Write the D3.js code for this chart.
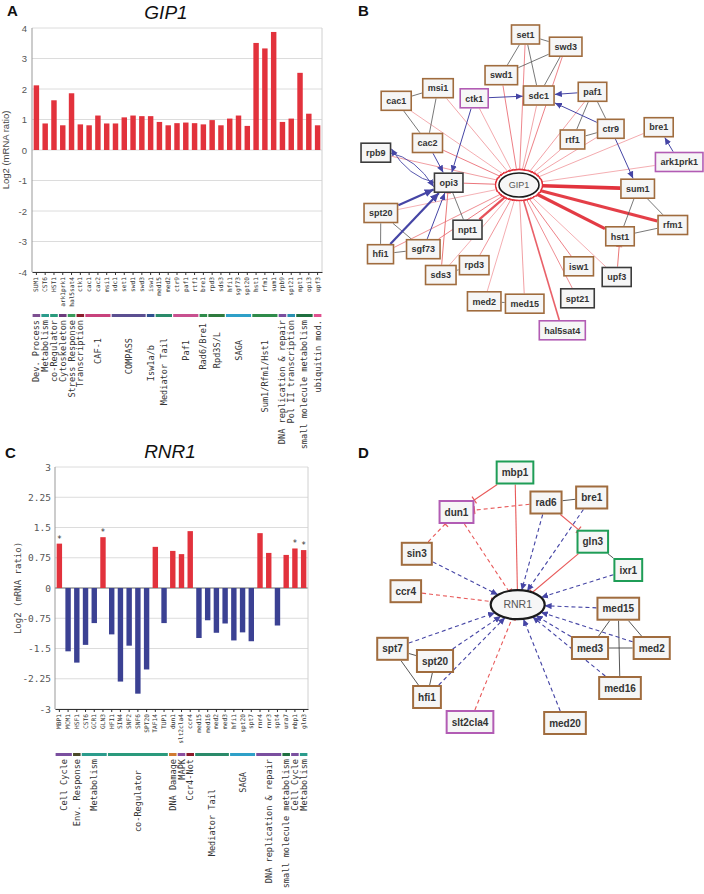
<!DOCTYPE html>
<html><head><meta charset="utf-8">
<script src="https://cdn.jsdelivr.net/npm/d3@7"></script>
<style>body{margin:0;background:#fff}svg{display:block}</style>
</head><body>
<svg id="c" width="704" height="894"></svg>
<script>
// ---------------- DATA ----------------
const genesA = ["SUM1","CST6","HST1","ark1prk1","hal5sat4","ctk1","cac1","cac2","msi1","sdc1","set1","swd1","swd3","isw1","med15","med2","ctr9","paf1","rtf1","bre1","rpd3","sds3","hfi1","sgf73","spt20","hst1","rfm1","sum1","rpb9","spt21","npt1","opi3","upf3"];
const valuesA = [2.12,0.87,1.63,0.81,1.86,0.84,0.81,1.13,0.87,0.87,1.07,1.13,1.11,1.11,0.92,0.81,0.88,0.90,0.88,0.84,0.98,0.81,1.03,1.13,0.79,3.51,3.33,3.87,0.92,1.03,2.53,1.19,0.81];
const catNamesA = ["Dev. Process","Metabolism","co-Regulator","Cytoskeleton","Stress Response","Transcription","CAF-1","COMPASS","Isw1a/b","Mediator Tail","Paf1","Rad6/Bre1","Rpd3S/L","SAGA","Sum1/Rfm1/Hst1","DNA replication & repair","Pol II transcription","small molecule metabolism","ubiquitin mod."];
const catSizesA = [1,1,1,1,1,1,3,4,1,2,3,1,2,3,3,1,1,2,1];
const ticksA = [4,3,2,1,0,-1,-2,-3,-4];

const genesC = ["MBP1","MCM1","HSF1","CST6","GCR1","GLN3","HFI1","SIN4","SNF2","SNF6","SPT20","TAF14","TUP1","dun1","slt2cla4","ccr4","med15","med16","med2","med3","hfi1","spt20","spt7","rnr4","rnr3","spt4","ura7","mbp1","gln3"];
const valuesC = [1.10,-1.57,-1.85,-1.41,-0.87,1.26,-1.15,-2.32,-1.43,-2.62,-2.02,1.02,-0.87,0.92,0.84,1.41,-1.24,-0.80,-1.11,-0.88,-1.30,-1.10,-1.32,1.36,0.87,-0.93,0.82,0.98,0.94];
const starredC = ["MBP1","GLN3","mbp1","gln3"];
const catNamesC = ["Cell Cycle","Env. Response","Metabolism","co-Regulator","DNA Damage","MAPK","Ccr4-Not","Mediator Tail","SAGA","DNA replication & repair","small molecule metabolism","Cell Cycle","Metabolism"];
const catSizesC = [2,1,3,7,1,1,1,4,3,3,1,1,1];
const ticksC = [3,2.25,1.5,0.75,0,-0.75,-1.5,-2.25,-3];

// network B (GIP1)
const nodesB = ["set1","swd3","swd1","msi1","ctk1","sdc1","paf1","cac1","ctr9","rtf1","bre1","cac2","rpb9","ark1prk1","opi3","sum1","spt20","npt1","rfm1","hst1","hfi1","sgf73","rpd3","sds3","isw1","upf3","med2","med15","spt21","hal5sat4"];
const kindB = {ctk1:"kinase",ark1prk1:"kinase",hal5sat4:"kinase",rpb9:"other",opi3:"other",npt1:"other",upf3:"other",spt21:"other"};
const ppiB = [["set1","swd3"],["set1","swd1"],["set1","sdc1"],["swd3","swd1"],["swd3","sdc1"],["msi1","cac1"],["msi1","cac2"],["cac1","cac2"],["paf1","ctr9"],["paf1","rtf1"],["ctr9","rtf1"],["opi3","npt1"],["spt20","hfi1"],["spt20","sgf73"],["hfi1","sgf73"],["sds3","rpd3"],["med2","med15"],["sum1","hst1"],["sum1","rfm1"],["hst1","rfm1"]];
const actB = [["ctk1","sdc1",1],["paf1","sdc1",1],["ctr9","sdc1",1],["ctk1","opi3",1],["cac2","opi3",1],["spt20","opi3",2.2],["hfi1","opi3",2.2],["sgf73","opi3",1],["ctr9","sum1",1],["ark1prk1","bre1",1]];
const inhB = [["upf3","hst1"],["sds3","opi3"]];

// network D (RNR1)
const nodesD = ["mbp1","dun1","rad6","bre1","gln3","sin3","ixr1","ccr4","med15","spt7","med3","med2","spt20","med16","hfi1","slt2cla4","med20"];
const kindD = {mbp1:"tf",gln3:"tf",ixr1:"tf",dun1:"kinase",slt2cla4:"kinase"};
const ppiD = [["rad6","bre1"],["gln3","ixr1"],["med15","med3"],["med15","med2"],["med15","med16"],["med3","med2"],["spt7","spt20"],["spt7","hfi1"],["spt20","hfi1"]];
const inhSolidD = [["mbp1","dun1"],["mbp1","RNR1"],["rad6","gln3"],["gln3","RNR1"]];
const inhDashD = [["rad6","dun1"],["dun1","RNR1"],["sin3","dun1"],["ccr4","RNR1"],["slt2cla4","RNR1"]];
const actDashD = ["rad6","bre1","sin3","ixr1","med15","med2","med3","med16","spt7","spt20","hfi1","med20"];

// ---------------- LAYOUT ----------------
const layoutB = {set1:[185.5,34.5],swd3:[225.7,46.7],swd1:[161.3,75.2],msi1:[98,88.2],ctk1:[134.2,98.3],sdc1:[198.8,95.5],paf1:[252.5,91.8],cac1:[56.2,100.8],ctr9:[270.8,128.8],rtf1:[232.5,139.5],bre1:[318.7,127.2],cac2:[87.5,143],rpb9:[35.8,152.7],ark1prk1:[339.2,162],opi3:[108.7,182.7],GIP1:[179,185],sum1:[297.7,188.7],spt20:[40.8,213],npt1:[127.5,229.7],rfm1:[332.8,225],hst1:[280,236.3],hfi1:[40.5,254.2],sgf73:[83.3,249.2],rpd3:[134.2,265.2],sds3:[100.8,275],isw1:[238.7,266.3],upf3:[276.7,277],med2:[144.2,301.3],med15:[184.7,303.7],spt21:[237.5,298.3],hal5sat4:[222.3,330.3]};
const layoutD = {mbp1:[175,32.5],dun1:[116.5,72],rad6:[206,62.5],bre1:[251.7,57.5],gln3:[252.8,101.7],sin3:[76.8,113.8],ixr1:[288.3,130],ccr4:[65.8,151.2],RNR1:[177.7,164.7],med15:[278.3,168.7],spt7:[52.5,208.8],med3:[250,208],med2:[311.7,208],spt20:[95,221],med16:[280,248],hfi1:[87,257],slt2cla4:[130,282],med20:[225,283]};
const dropA = [0,0,0,0,0,0,18,18,25,18,20,3,12,20,20,0,0,0,0];
const dropC = [0,0,0,11,0,0,0,30,13,0,0,0,0];

const catColor = {"Dev. Process":"#7d4f91","Metabolism":"#2b9c8c","co-Regulator":"#2a9a7c","Cytoskeleton":"#6c3b7c","Stress Response":"#3a9a5a","Transcription":"#8b1c2c","CAF-1":"#c8427c","COMPASS":"#5b4f91","Isw1a/b":"#2f4f8f","Mediator Tail":"#2a8a6a","Paf1":"#c8508f","Rad6/Bre1":"#2e8b4a","Rpd3S/L":"#2e7a3e","SAGA":"#2ea0c8","Sum1/Rfm1/Hst1":"#2e8b4a","DNA replication & repair":"#7a4f9f","Pol II transcription":"#2a90b0","small molecule metabolism":"#1f6f3f","ubiquitin mod.":"#e0508f","Cell Cycle":"#7a4f9f","Env. Response":"#4a4a2a","DNA Damage":"#d07a30","MAPK":"#8a4f9f","Ccr4-Not":"#8b1a2a"};

const SANS = "'Liberation Sans', Arial, sans-serif";
const MONO = "'DejaVu Sans Mono', monospace";
const RED = "#e2323c", BLUE = "#3b4193";
const svg = d3.select("#c");

// panel letters & titles
[["A",7,16],["B",358,16],["C",5,458],["D",358,458]].forEach(([t,x,y]) =>
  svg.append("text").attr("x",x).attr("y",y).text(t).attr("font-family",SANS).attr("font-weight","bold").attr("font-size",15).attr("fill","#111"));
[["GIP1",166,19],["RNR1",170,458]].forEach(([t,x,y]) =>
  svg.append("text").attr("x",x).attr("y",y).text(t).attr("text-anchor","middle").attr("font-family",SANS).attr("font-style","italic").attr("font-size",19).attr("fill","#111"));

// ---------------- BAR CHART helper ----------------
function barChart(o) {
  const g = svg.append("g");
  const y = d3.scaleLinear().domain(o.domain).range([o.bottom, o.top]);
  const x = d3.scaleBand().domain(o.genes).range([o.left, o.right]).paddingInner(0.38).paddingOuter(0.19);
  g.selectAll("line.grid").data(o.ticks).join("line")
    .attr("x1",o.left).attr("x2",o.right).attr("y1",d=>y(d)).attr("y2",d=>y(d))
    .attr("stroke",d=> (d===0 && o.zeroDark) ? "#666" : "#dcdcdc").attr("stroke-width",1);
  g.append("line").attr("x1",o.right).attr("x2",o.right).attr("y1",o.top).attr("y2",o.bottom).attr("stroke","#d0d0d0");
  g.append("line").attr("x1",o.left).attr("x2",o.left).attr("y1",o.top).attr("y2",o.bottom).attr("stroke","#999");
  const ax = g.append("g").attr("transform",`translate(${o.left},0)`)
    .call(d3.axisLeft(y).tickValues(o.ticks).tickSize(0).tickPadding(o.tickPad).tickFormat(d=>String(d)));
  ax.select(".domain").remove();
  ax.selectAll("text").attr("font-family",o.tickFont).attr("font-size",o.tickSize).attr("fill","#555");
  g.append("text").attr("transform",`translate(${o.titleX},${(o.top+o.bottom)/2}) rotate(-90)`)
    .attr("text-anchor","middle").attr("font-family",o.tickFont).attr("font-size",o.titleSize).attr("fill","#444").text("Log2 (mRNA ratio)");
  g.selectAll("rect.bar").data(o.genes.map((n,i)=>({n,v:o.values[i]}))).join("rect")
    .attr("x",d=>x(d.n)).attr("width",x.bandwidth())
    .attr("y",d=>y(Math.max(0,d.v))).attr("height",d=>Math.abs(y(d.v)-y(0)))
    .attr("fill",d=>d.v>=0?RED:BLUE);
  if (o.stars) g.selectAll("text.star").data(o.stars).join("text")
    .attr("x",d=>x(d)+x.bandwidth()/2).attr("y",d=>y(o.values[o.genes.indexOf(d)])-2)
    .attr("text-anchor","middle").attr("font-family",MONO).attr("font-size",8).attr("fill","#333").text("*");
  const bx = g.append("g").attr("transform",`translate(0,${o.bottom})`)
    .call(d3.axisBottom(x).tickSize(3).tickSizeOuter(0));
  bx.select(".domain").attr("stroke","#333");
  bx.selectAll(".tick line").attr("stroke","#333");
  bx.selectAll("text").attr("font-family",MONO).attr("font-size",6.2).attr("fill","#333")
    .attr("transform","rotate(-90)").attr("text-anchor","end").attr("x",-5).attr("y",0).attr("dy","0.32em");
  const step = x.step();
  const x0 = o.left + x.paddingOuter()*step - x.paddingInner()*step/2;
  let s = 0;
  o.cats.forEach((c,i) => {
    const n = o.sizes[i];
    const a = x0 + s*step, b = x0 + (s+n)*step;
    g.append("rect").attr("x",a+0.6).attr("width",b-a-1.2).attr("y",o.catY).attr("height",3).attr("fill",catColor[c]);
    g.append("text").attr("transform",`translate(${(a+b)/2},${o.catY+6+o.drops[i]}) rotate(-90)`)
      .attr("text-anchor","end").attr("dy","0.35em").attr("font-family",MONO).attr("font-size",8.6).attr("fill","#333").text(c);
    s += n;
  });
  return {x,y};
}

barChart({genes:genesA, values:valuesA, domain:[-4,4], ticks:ticksA, left:32, right:322, top:28, bottom:272,
  tickFont:SANS, tickSize:9.5, tickPad:5, titleX:9, titleSize:9.5, cats:catNamesA, sizes:catSizesA, drops:dropA, catY:314});
barChart({genes:genesC, values:valuesC, domain:[-3,3], ticks:ticksC, left:55, right:308, top:467, bottom:709, zeroDark:true,
  tickFont:MONO, tickSize:9.5, tickPad:4, titleX:21, titleSize:9, cats:catNamesC, sizes:catSizesC, drops:dropC, catY:753, stars:starredC});

// ---------------- NETWORK helper ----------------
const defs = svg.append("defs");
function arrowMarker(id, size) {
  defs.append("marker").attr("id",id).attr("viewBox","0 0 10 10").attr("refX",10).attr("refY",5)
    .attr("markerWidth",size).attr("markerHeight",size).attr("markerUnits","userSpaceOnUse").attr("orient","auto")
    .append("path").attr("d","M0,0.5 L10,5 L0,9.5 z").attr("fill","#4545a5");
}
arrowMarker("arr",7); arrowMarker("arrBig",9);

const BOXC = {brown:"#a06c3e", kinase:"#b25cb4", other:"#3c3c3c", tf:"#1f9d57"};

function network(o) {
  const gx = d3.scaleLinear().domain([0,364]).range([o.ox, o.ox+364]);
  const gy = d3.scaleLinear().domain([0,450]).range([o.oy, o.oy+450]);
  const P = n => [gx(o.layout[n][0]), gy(o.layout[n][1])];
  const gE = svg.append("g"), gN = svg.append("g");
  const shape = {};
  const [cx,cy] = P(o.center);
  if (o.ring) gN.append("ellipse").attr("cx",cx).attr("cy",cy).attr("rx",o.erx+3.5).attr("ry",o.ery+3.5).attr("fill","none").attr("stroke",RED).attr("stroke-width",1.3);
  gN.append("ellipse").attr("cx",cx).attr("cy",cy).attr("rx",o.erx).attr("ry",o.ery).attr("fill","#f6f6f6").attr("stroke","#1a1a1a").attr("stroke-width",o.ew);
  gN.append("text").attr("x",cx).attr("y",cy).attr("dy","0.35em").attr("text-anchor","middle").attr("font-family",SANS).attr("font-size",o.efs).attr("fill","#555").text(o.center);
  shape[o.center] = {type:"e", cx, cy, rx:o.erx + (o.ring?3.5:0), ry:o.ery + (o.ring?3.5:0)};
  o.nodes.forEach(n => {
    const [x,y] = P(n);
    const t = gN.append("text").attr("x",x).attr("y",y).attr("dy","0.36em").attr("text-anchor","middle")
      .attr("font-family",SANS).attr("font-weight","bold").attr("font-size",o.fs).attr("fill","#333").text(n);
    const w = t.node().getComputedTextLength() + o.pad*2, h = o.h;
    gN.insert("rect","text").attr("x",x-w/2).attr("y",y-h/2).attr("width",w).attr("height",h)
      .attr("fill","#f6f6f6").attr("stroke",BOXC[o.kind[n]||"brown"]).attr("stroke-width",o.bw);
    shape[n] = {type:"b", cx:x, cy:y, hw:w/2+o.bw/2, hh:h/2+o.bw/2};
  });
  function edgePt(s, fx, fy) {
    const dx = fx - s.cx, dy = fy - s.cy;
    let t;
    if (s.type === "e") t = 1/Math.sqrt((dx/s.rx)**2 + (dy/s.ry)**2);
    else t = Math.min(s.hw/Math.abs(dx||1e-9), s.hh/Math.abs(dy||1e-9));
    return [s.cx + dx*t, s.cy + dy*t];
  }
  function seg(a, b) {
    const A = shape[a], B = shape[b];
    return [edgePt(A, B.cx, B.cy), edgePt(B, A.cx, A.cy)];
  }
  function tbar(p1, p2, color, len, w) {
    const dx = p2[0]-p1[0], dy = p2[1]-p1[1], L = Math.hypot(dx,dy);
    const nx = -dy/L*len/2, ny = dx/L*len/2;
    gE.append("line").attr("x1",p2[0]+nx).attr("y1",p2[1]+ny).attr("x2",p2[0]-nx).attr("y2",p2[1]-ny)
      .attr("stroke",color).attr("stroke-width",w);
  }
  return {gE, shape, seg, tbar, P};
}

// ---------------- PANEL B ----------------
const nb = network({ox:340, oy:0, layout:layoutB, nodes:nodesB, kind:kindB, center:"GIP1", erx:20, ery:12, ew:1.6, efs:9, ring:true, fs:9, h:19, pad:5, bw:1.6});
const wScale = d3.scaleLinear().domain([0.8,3.9]).range([0.6,3.6]);
const oScale = d3.scaleLinear().domain([0.8,3.9]).range([0.65,1]);
nodesB.forEach(n => {
  const v = valuesA[genesA.indexOf(n)];
  const [p1,p2] = nb.seg(n,"GIP1");
  nb.gE.append("line").attr("x1",p1[0]).attr("y1",p1[1]).attr("x2",p2[0]).attr("y2",p2[1])
    .attr("stroke",RED).attr("stroke-opacity",oScale(v)).attr("stroke-width",wScale(v));
  nb.tbar(p1,p2,RED,5,1);
});
ppiB.forEach(([a,b]) => {
  const [p1,p2] = nb.seg(a,b);
  nb.gE.append("line").attr("x1",p1[0]).attr("y1",p1[1]).attr("x2",p2[0]).attr("y2",p2[1]).attr("stroke","#555").attr("stroke-width",0.8);
});
actB.forEach(([a,b,w]) => {
  const [p1,p2] = nb.seg(a,b);
  nb.gE.append("line").attr("x1",p1[0]).attr("y1",p1[1]).attr("x2",p2[0]).attr("y2",p2[1])
    .attr("stroke","#4545a5").attr("stroke-width",w).attr("marker-end",`url(#${w>1.5?"arrBig":"arr"})`);
});
inhB.forEach(([a,b]) => {
  const [p1,p2] = nb.seg(a,b);
  nb.gE.append("line").attr("x1",p1[0]).attr("y1",p1[1]).attr("x2",p2[0]).attr("y2",p2[1]).attr("stroke","#e86868").attr("stroke-width",0.9);
  nb.tbar(p1,p2,"#e86868",6,1);
});
{
  const A = nb.shape.rpb9, B = nb.shape.opi3;
  [[A,B,-1],[B,A,-1]].forEach(([s,t,sg]) => {
    const mx = (s.cx+t.cx)/2, my = (s.cy+t.cy)/2;
    const dx = t.cx-s.cx, dy = t.cy-s.cy, L = Math.hypot(dx,dy);
    const qx = mx + sg*(-dy/L)*10, qy = my + sg*(dx/L)*10;
    const [sx,sy] = [s.cx + (dx>0? s.hw : -s.hw)*0.9, s.cy];
    const [ex,ey] = [t.cx + (dx>0? -t.hw : t.hw), t.cy + (dx>0?-4:4)*-1];
    nb.gE.append("path").attr("d",`M${sx},${sy} Q${qx},${qy} ${ex},${ey}`).attr("fill","none")
      .attr("stroke","#4545a5").attr("stroke-width",0.9).attr("marker-end","url(#arr)");
  });
}

// ---------------- PANEL D ----------------
const nd = network({ox:340, oy:440, layout:layoutD, nodes:nodesD, kind:kindD, center:"RNR1", erx:27, ery:14.5, ew:2.2, efs:10.5, ring:false, fs:10, h:22, pad:5, bw:2});
ppiD.forEach(([a,b]) => {
  const [p1,p2] = nd.seg(a,b);
  nd.gE.append("line").attr("x1",p1[0]).attr("y1",p1[1]).attr("x2",p2[0]).attr("y2",p2[1]).attr("stroke","#444").attr("stroke-width",0.9);
});
function inhD(list, dash) {
  list.forEach(([a,b]) => {
    const [p1,p2] = nd.seg(a,b);
    nd.gE.append("line").attr("x1",p1[0]).attr("y1",p1[1]).attr("x2",p2[0]).attr("y2",p2[1])
      .attr("stroke","#e85a5a").attr("stroke-width",1.1).attr("stroke-dasharray",dash?"4,3":null);
    nd.tbar(p1,p2,"#e85a5a",8,1.2);
  });
}
inhD(inhSolidD,false); inhD(inhDashD,true);
actDashD.forEach(a => {
  const [p1,p2] = nd.seg(a,"RNR1");
  nd.gE.append("line").attr("x1",p1[0]).attr("y1",p1[1]).attr("x2",p2[0]).attr("y2",p2[1])
    .attr("stroke","#4545a5").attr("stroke-width",1.1).attr("stroke-dasharray","4,3").attr("marker-end","url(#arr)");
});
</script>
</body></html>
